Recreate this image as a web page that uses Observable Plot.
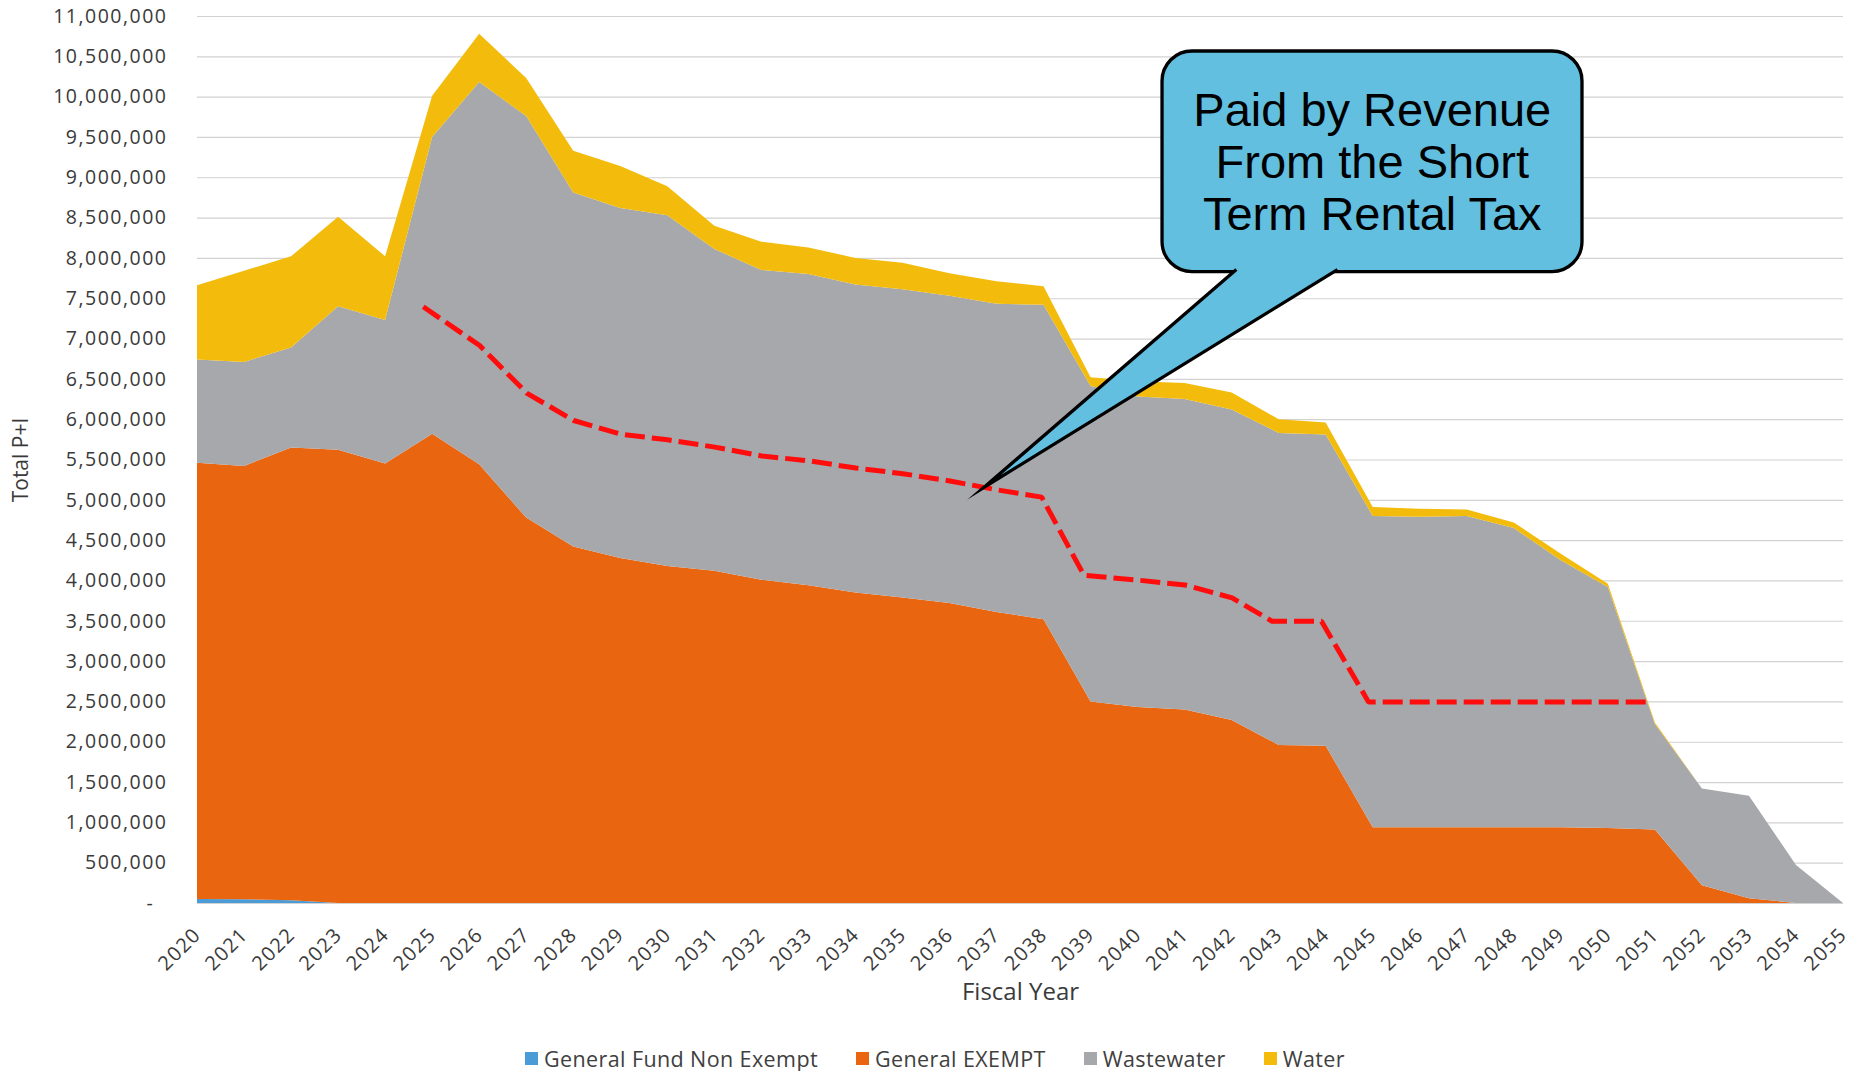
<!DOCTYPE html>
<html>
<head>
<meta charset="utf-8">
<script src="https://cdn.jsdelivr.net/npm/d3@7"></script>
<script src="https://cdn.jsdelivr.net/npm/@observablehq/plot@0.6"></script>
<style>
  html, body { margin: 0; padding: 0; background: #fff; }
  #chart { width: 1870px; }
  g[aria-label="y-axis tick label"] text { letter-spacing: 1.5px; }
  g[aria-label="x-axis tick label"] text { letter-spacing: 1.2px; }
  .legend {
    width: 1870px; display: flex; justify-content: center; align-items: center;
    margin-top: 28px; height: 30px;
    font-family: "Open Sans", sans-serif; font-size: 21.5px; color: #404040; letter-spacing: 0.4px;
  }
  .legend .item { display: flex; align-items: center; margin: 0 19px; }
  .legend .sw { width: 13px; height: 13px; margin-right: 6px; display: inline-block; }
</style>
</head>
<body>
<div id="chart"></div>
<div class="legend" id="legend"></div>
<script>
// ---------- data ----------
const years = [2020, 2021, 2022, 2023, 2024, 2025, 2026, 2027, 2028, 2029,
               2030, 2031, 2032, 2033, 2034, 2035, 2036, 2037, 2038, 2039,
               2040, 2041, 2042, 2043, 2044, 2045, 2046, 2047, 2048, 2049,
               2050, 2051, 2052, 2053, 2054, 2055];

const seriesNames = ["General Fund Non Exempt", "General EXEMPT", "Wastewater", "Water"];
const seriesColors = ["#4a9bd6", "#ea650f", "#a7a8ab", "#f3bc0c"];

const generalFundNonExempt = [50000, 45000, 35000, 0, 0, 0, 0, 0, 0, 0,
                              0, 0, 0, 0, 0, 0, 0, 0, 0, 0,
                              0, 0, 0, 0, 0, 0, 0, 0, 0, 0,
                              0, 0, 0, 0, 0, 0];

const generalExempt = [5410000, 5375000, 5615000, 5620000, 5450000, 5820000, 5440000, 4780000, 4420000, 4280000,
                       4180000, 4120000, 4010000, 3940000, 3850000, 3790000, 3720000, 3610000, 3520000, 2500000,
                       2430000, 2400000, 2270000, 1960000, 1950000, 940000, 940000, 940000, 940000, 940000,
                       930000, 910000, 220000, 60000, 0, 0];

const wastewater = [1280000, 1290000, 1240000, 1780000, 1780000, 3680000, 4740000, 4980000, 4390000, 4340000,
                    4350000, 3990000, 3840000, 3860000, 3820000, 3820000, 3810000, 3820000, 3900000, 3910000,
                    3850000, 3850000, 3850000, 3870000, 3860000, 3860000, 3850000, 3860000, 3710000, 3310000,
                    2990000, 1310000, 1200000, 1270000, 470000, 0];

const water = [920000, 1130000, 1130000, 1110000, 790000, 510000, 600000, 470000, 520000, 520000,
               360000, 290000, 350000, 330000, 330000, 330000, 280000, 280000, 230000, 110000,
               190000, 200000, 210000, 170000, 150000, 110000, 100000, 80000, 70000, 80000,
               40000, 20000, 0, 0, 0, 0];

// red dashed line (Short Term Rental Tax revenue)
const strYears = [2024.8, 2026, 2027, 2028, 2029, 2030, 2031, 2032, 2033, 2034, 2035,
                  2036, 2037, 2037.95, 2038.85, 2040, 2041, 2042, 2042.85, 2043.9, 2044.9, 2050.8];
const strValues = [7400000, 6920000, 6330000, 5990000, 5820000, 5750000, 5660000, 5550000, 5490000, 5400000, 5330000,
                   5240000, 5130000, 5040000, 4070000, 4010000, 3950000, 3790000, 3500000, 3500000, 2500000, 2500000];

const yTicks = [0, 500000, 1000000, 1500000, 2000000, 2500000, 3000000, 3500000, 4000000, 4500000,
                5000000, 5500000, 6000000, 6500000, 7000000, 7500000, 8000000, 8500000, 9000000, 9500000,
                10000000, 10500000, 11000000];

const calloutText = "Paid by Revenue\nFrom the Short\nTerm Rental Tax";
// callout anchors in data units (year, dollars)
const calloutBox = [{x1: 2040.52, x2: 2049.45, y1: 7831000, y2: 10566000}];
const calloutTail = [{x: 2042.09, y: 7862000}, {x: 2036.72, y: 5159000}, {x: 2044.24, y: 7862000}];
const calloutLabel = [{x: 2044.98, y: 9201000, text: calloutText}];

// ---------- build tables ----------
const seriesValues = [generalFundNonExempt, generalExempt, wastewater, water];
const table = [];
seriesNames.forEach((name, s) => {
  years.forEach((yr, i) => table.push({year: yr, series: name, value: seriesValues[s][i]}));
});
const strLine = strYears.map((yr, i) => ({year: yr, value: strValues[i]}));

const fmt = d3.format(",");

const chart = Plot.plot({
  width: 1870,
  height: 1015,
  marginLeft: 197,
  marginRight: 27,
  marginTop: 16,
  marginBottom: 112,
  x: {type: "linear", domain: [2020, 2055]},
  y: {domain: [0, 11000000]},
  color: {domain: seriesNames, range: seriesColors},
  style: {fontFamily: "Open Sans, sans-serif", fontSize: "19px", color: "#3a3a3a", background: "#fff"},
  marks: [
    Plot.gridY(yTicks, {stroke: "#d2d2d2", strokeOpacity: 1, strokeWidth: 1.2}),
    Plot.areaY(table, {x: "year", y: "value", z: "series", fill: "series",
                       order: seriesNames, curve: "linear"}),
    Plot.line(strLine, {x: "year", y: "value", stroke: "#ff0d0d", strokeWidth: 5,
                        strokeDasharray: "20,7", strokeLinecap: "butt", strokeLinejoin: "miter"}),
    Plot.rect(calloutBox, {x1: "x1", x2: "x2", y1: "y1", y2: "y2", fill: "#62bfe0",
                           stroke: "#000", strokeWidth: 3.3, rx: 30}),
    Plot.line(calloutTail, {x: "x", y: "y", fill: "#62bfe0", stroke: "#000", strokeWidth: 3.3,
                            strokeLinejoin: "miter", strokeMiterlimit: 30, strokeLinecap: "butt"}),
    Plot.text(calloutLabel, {x: "x", y: "y", text: "text", fontSize: 47, lineHeight: 1.1,
                             fontFamily: "Liberation Sans, Arial, sans-serif", fill: "#000",
                             lineAnchor: "middle", textAnchor: "middle"}),
    Plot.axisY(yTicks, {tickSize: 0, tickPadding: 30, label: null, fontSize: 19.5,
                        tickFormat: d => d === 0 ? "-\u00a0\u00a0" : fmt(d), fill: "#3a3a3a"}),
    Plot.axisX(years, {tickSize: 0, tickPadding: 28, tickRotate: -45, label: null, fontSize: 20,
                       tickFormat: d => String(d), fill: "#3a3a3a"}),
    Plot.text(["Total P+I"], {frameAnchor: "left", dx: -176, rotate: -90, fontSize: 21,
                              fill: "#3a3a3a", lineAnchor: "middle", textAnchor: "middle"}),
    Plot.text(["Fiscal Year"], {frameAnchor: "bottom", dy: 89, fontSize: 24, fill: "#3a3a3a",
                                lineAnchor: "middle", textAnchor: "middle"})
  ]
});
document.getElementById("chart").append(chart);

// ---------- legend ----------
const legend = document.getElementById("legend");
seriesNames.forEach((name, i) => {
  const item = document.createElement("span");
  item.className = "item";
  const sw = document.createElement("span");
  sw.className = "sw";
  sw.style.background = seriesColors[i];
  item.append(sw, document.createTextNode(name));
  legend.append(item);
});
</script>
</body>
</html>
